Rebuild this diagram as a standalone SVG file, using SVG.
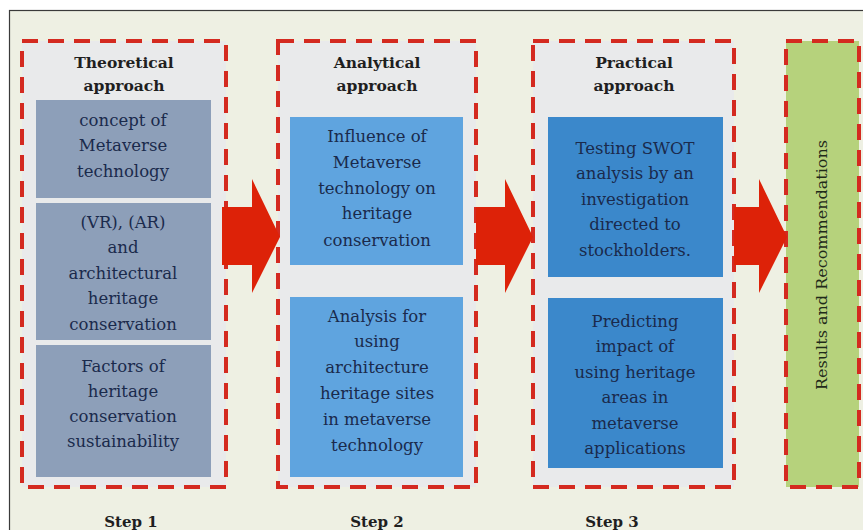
<svg xmlns="http://www.w3.org/2000/svg" width="863" height="530" viewBox="0 0 863 530">
<style>
.frame{fill:#eef0e3;stroke:#3a3a3a;stroke-width:1.2}
.dash{fill:#e9eaeb;stroke:#d42a20;stroke-width:4;stroke-dasharray:16 10}
.green{fill:#b6d27c;stroke:#d42a20;stroke-width:4;stroke-dasharray:16 10}
.b1{fill:#8d9fb9}
.b2{fill:#5fa4df}
.b3{fill:#3b88cb}
.arrow{fill:#dd2208}
.title{font-family:"DejaVu Serif",serif;font-weight:bold;font-size:15.5px;fill:#1f1f1f;text-anchor:middle}
.t{font-family:"DejaVu Serif",serif;font-size:16.5px;fill:#1a2a4c;text-anchor:middle}
.step{font-family:"DejaVu Serif",serif;font-weight:bold;font-size:15px;fill:#1f1f1f;text-anchor:middle}
.res{font-family:"DejaVu Serif",serif;font-size:15px;fill:#1f2a1a;text-anchor:middle}
</style>
<rect width="863" height="530" fill="#ffffff"/>
<rect class="frame" x="9.5" y="10.5" width="870" height="540"/>

<g id="step1">
<rect class="dash" x="22" y="41" width="204" height="446"/>
<text class="title" x="124" y="68">Theoretical</text>
<text class="title" x="124" y="91">approach</text>
</g>
<g id="s1a">
<rect class="b1" x="36" y="100" width="175" height="98"/>
<text class="t" x="123" y="126">concept of</text>
<text class="t" x="123" y="151">Metaverse</text>
<text class="t" x="123" y="177">technology</text>
</g>
<g id="s1b">
<rect class="b1" x="36" y="203" width="175" height="137"/>
<text class="t" x="123" y="228">(VR), (AR)</text>
<text class="t" x="123" y="253">and</text>
<text class="t" x="123" y="279">architectural</text>
<text class="t" x="123" y="304">heritage</text>
<text class="t" x="123" y="330">conservation</text>
</g>
<g id="s1c">
<rect class="b1" x="36" y="345" width="175" height="132"/>
<text class="t" x="123" y="372">Factors of</text>
<text class="t" x="123" y="397">heritage</text>
<text class="t" x="123" y="422">conservation</text>
<text class="t" x="123" y="447">sustainability</text>
</g>

<g id="step2">
<rect class="dash" x="278" y="41" width="198" height="446"/>
<text class="title" x="377" y="68">Analytical</text>
<text class="title" x="377" y="91">approach</text>
</g>
<g id="s2a">
<rect class="b2" x="290" y="117" width="173" height="148"/>
<text class="t" x="377" y="142">Influence of</text>
<text class="t" x="377" y="168">Metaverse</text>
<text class="t" x="377" y="194">technology on</text>
<text class="t" x="377" y="219">heritage</text>
<text class="t" x="377" y="246">conservation</text>
</g>
<g id="s2b">
<rect class="b2" x="290" y="297" width="173" height="180"/>
<text class="t" x="377" y="322">Analysis for</text>
<text class="t" x="377" y="347">using</text>
<text class="t" x="377" y="373">architecture</text>
<text class="t" x="377" y="399">heritage sites</text>
<text class="t" x="377" y="425">in metaverse</text>
<text class="t" x="377" y="451">technology</text>
</g>

<g id="step3">
<rect class="dash" x="533" y="41" width="201" height="446"/>
<text class="title" x="634" y="68">Practical</text>
<text class="title" x="634" y="91">approach</text>
</g>
<g id="s3a">
<rect class="b3" x="548" y="117" width="175" height="160"/>
<text class="t" x="635" y="154">Testing SWOT</text>
<text class="t" x="635" y="179">analysis by an</text>
<text class="t" x="635" y="205">investigation</text>
<text class="t" x="635" y="230">directed to</text>
<text class="t" x="635" y="256">stockholders.</text>
</g>
<g id="s3b">
<rect class="b3" x="548" y="298" width="175" height="170"/>
<text class="t" x="635" y="327">Predicting</text>
<text class="t" x="635" y="352">impact of</text>
<text class="t" x="635" y="378">using heritage</text>
<text class="t" x="635" y="403">areas in</text>
<text class="t" x="635" y="429">metaverse</text>
<text class="t" x="635" y="454">applications</text>
</g>

<g id="results">
<rect class="green" x="786" y="41" width="73" height="446"/>
<text class="res" transform="translate(827,265) rotate(-90)" textLength="250" lengthAdjust="spacingAndGlyphs">Results and Recommendations</text>
</g>

<g id="connectors">
<polygon class="arrow" points="222,207 252,207 252,179 280,237 252,293 252,265 222,265"/>
<polygon class="arrow" points="476,207 505,207 505,179 533,237 505,293 505,265 476,265"/>
<polygon class="arrow" points="734,207 759,207 759,179 787,237 759,293 759,265 734,265"/>
</g>

<g id="labels">
<text class="step" x="131" y="527">Step 1</text>
<text class="step" x="377" y="527">Step 2</text>
<text class="step" x="612" y="527">Step 3</text>
</g>
</svg>
